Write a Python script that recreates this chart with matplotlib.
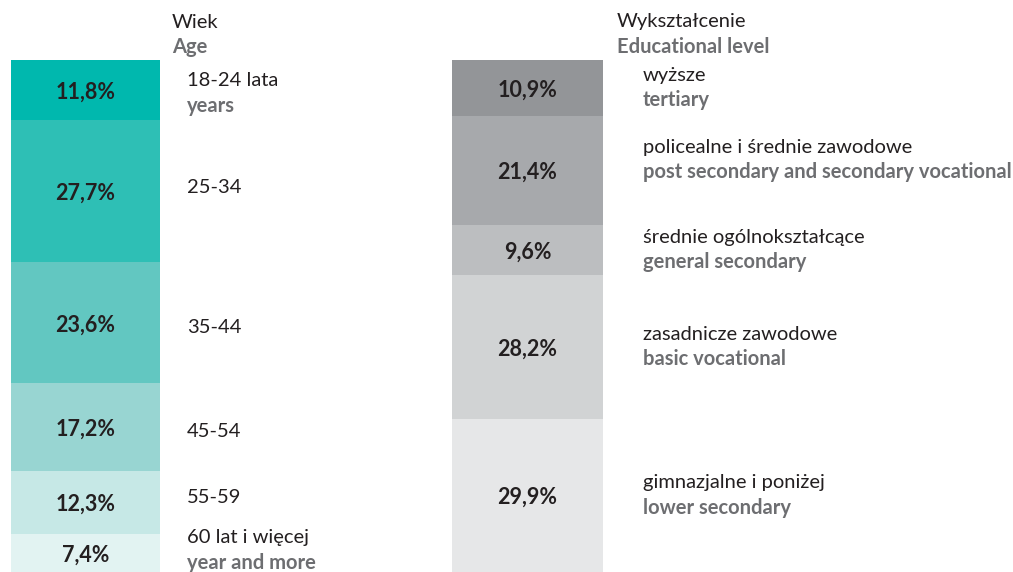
import matplotlib.pyplot as plt

# shares of respondents (%)
age_values = [11.8, 27.7, 23.6, 17.2, 12.3, 7.4]
age_pl = ['18-24 lata', '25-34', '35-44', '45-54', '55-59', '60 lat i więcej']
age_en = ['years', '', '', '', '', 'year and more']
age_colors = ['#00b8ae', '#2ebfb5', '#62c7c1', '#98d5d2', '#c6e8e6', '#e2f3f2']

edu_values = [10.9, 21.4, 9.6, 28.2, 29.9]
edu_pl = ['wyższe', 'policealne i średnie zawodowe', 'średnie ogólnokształcące',
          'zasadnicze zawodowe', 'gimnazjalne i poniżej']
edu_en = ['tertiary', 'post secondary and secondary vocational', 'general secondary',
          'basic vocational', 'lower secondary']
edu_colors = ['#939598', '#a7a9ac', '#bcbec0', '#d1d3d4', '#e6e7e8']

W, H = 1013, 572
TOP = 60  # pixel row where bars start

plt.rcParams['font.family'] = ['Lato', 'DejaVu Sans']
fig = plt.figure(figsize=(W / 100, H / 100), dpi=100)
# x in pixels, y in percent (0 at top of bars, 100 at the bottom)
ax = fig.add_axes([0, 0, 1, (H - TOP) / H])
ax.set_xlim(0, W)
ax.set_ylim(100, 0)
ax.axis('off')

dark = '#231f20'
grey = '#6d6e71'
fs = 14.5


def px(x, y):
    return x / W, 1 - y / H


def pct_to_px(p):
    return TOP + p / 100 * (H - TOP)


def stack(values, colors, xc, width, lab_x, pl, en, nudges):
    bottom = 0
    for i, v in enumerate(values):
        ax.bar(xc, v, bottom=bottom, width=width, color=colors[i], align='center')
        mid = bottom + v / 2
        ax.text(xc, mid + 0.4, f'{v:.1f}%'.replace('.', ','), ha='center', va='center',
                fontsize=15.5, fontweight='bold', color=dark)
        ym = pct_to_px(mid) + nudges[i]
        if en[i]:
            fig.text(*px(lab_x, ym - 12.5), pl[i], ha='left', va='center', fontsize=fs, color=dark)
            fig.text(*px(lab_x, ym + 12.5), en[i], ha='left', va='center', fontsize=fs,
                     fontweight='bold', color=grey)
        else:
            fig.text(*px(lab_x, ym), pl[i], ha='left', va='center', fontsize=fs, color=dark)
        bottom += v


stack(age_values, age_colors, 85.5, 149, 187, age_pl, age_en, [3, -4, 5, 4, -5, -3])
stack(edu_values, edu_colors, 527.5, 151, 643, edu_pl, edu_en, [0, -11, 0, 0, 0])

fig.text(*px(172, 22), 'Wiek', ha='left', va='center', fontsize=fs, color=dark)
fig.text(*px(172, 47), 'Age', ha='left', va='center', fontsize=fs, fontweight='bold', color=grey)
fig.text(*px(617, 22), 'Wykształcenie', ha='left', va='center', fontsize=fs, color=dark)
fig.text(*px(617, 47), 'Educational level', ha='left', va='center', fontsize=fs,
         fontweight='bold', color=grey)

fig.savefig('out.png', dpi=100)
